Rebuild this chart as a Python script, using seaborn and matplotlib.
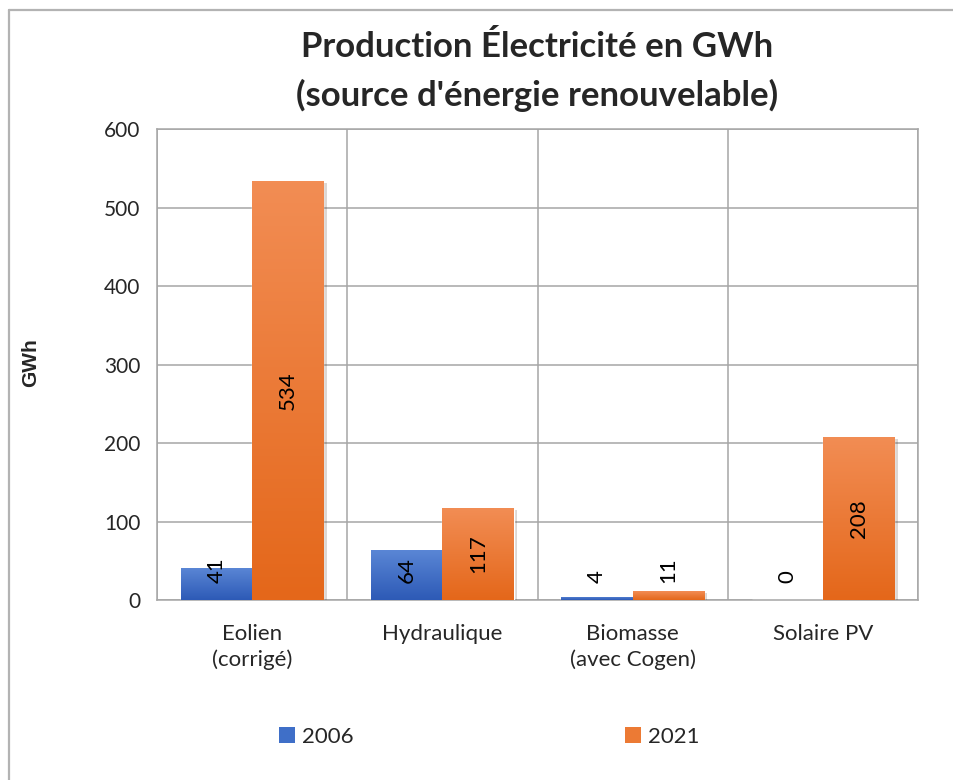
import numpy as np
import pandas as pd
import seaborn as sns
import matplotlib.pyplot as plt
import matplotlib.patheffects as pe
from matplotlib.patches import Patch
from matplotlib.lines import Line2D
from matplotlib.colors import to_rgb

# data
categories = ["Eolien\n(corrigé)", "Hydraulique", "Biomasse\n(avec Cogen)", "Solaire PV"]
years = ["2006", "2021"]
values_2006 = [41, 64, 4, 0]
values_2021 = [534, 117, 11, 208]
yticks = [0, 100, 200, 300, 400, 500, 600]

# gradient colours (top, bottom) per series
grad = {
    "2006": ("#5b87d6", "#2d5ab6"),
    "2021": ("#f28d54", "#e4671a"),
}
legend_col = {"2006": "#3f6fc8", "2021": "#ec7a34"}
grid_col = "#a6a6a6"

df = pd.DataFrame({
    "cat": categories * 2,
    "year": [years[0]] * 4 + [years[1]] * 4,
    "val": values_2006 + values_2021,
})

sns.set_style("white")
plt.rcParams["font.family"] = ["Lato", "DejaVu Sans"]

fig = plt.figure(figsize=(9.54, 7.8), dpi=100)
ax = fig.add_axes([157 / 954, 1 - 600 / 780, 761 / 954, 471 / 780])

sns.barplot(data=df, x="cat", y="val", hue="year", hue_order=years,
            palette=[legend_col[y] for y in years], width=0.75,
            ax=ax, legend=False, zorder=3)

ax.set_ylim(0, 600)
ax.set_xlim(-0.5, 3.5)

# gradient fill clipped to each bar, plus a soft drop shadow
bars = [p for p in ax.patches]
series = [y for y in years for _ in categories]
for p, yr in zip(bars, series):
    x0, y0 = p.get_x(), p.get_y()
    w, h = p.get_width(), p.get_height()
    if h <= 0:
        continue
    p.set_path_effects([pe.SimplePatchShadow(offset=(2.5, -1.5), alpha=0.18),
                        pe.Normal()])
    top, bot = np.array(to_rgb(grad[yr][0])), np.array(to_rgb(grad[yr][1]))
    t = np.linspace(0, 1, 128)[:, None, None]
    img = top * (1 - t) + bot * t
    im = ax.imshow(img, extent=[x0, x0 + w, y0, y0 + h], aspect="auto",
                   origin="upper", zorder=4)
    im.set_clip_path(p)
ax.set_xlim(-0.5, 3.5)
ax.set_ylim(0, 600)

# value labels, rotated
px_per_unit = 471 / 600
for p, yr in zip(bars, series):
    v = p.get_height()
    xc = p.get_x() + p.get_width() / 2
    s = f"{v:.0f}"
    half = len(s) * 11 / 2 / px_per_unit
    if v / 2 - half < 21.6:
        ax.text(xc, 21.6, s, rotation=90, ha="center", va="bottom",
                fontsize=16, color="black", zorder=6)
    else:
        ax.text(xc, v / 2, s, rotation=90, ha="center", va="center",
                fontsize=16, color="black", zorder=6)

# axes styling
ax.set_yticks(yticks)
ax.set_yticklabels([str(v) for v in yticks], fontsize=15)
ax.set_xticks(range(len(categories)))
ax.set_xticklabels(categories, fontsize=16, linespacing=1.35)
ax.set_xticks([-0.5, 0.5, 1.5, 2.5, 3.5], minor=True)
ax.tick_params(axis="x", which="major", length=0, pad=17)
ax.tick_params(axis="x", which="minor", length=6, width=1.1, color=grid_col,
               direction="out")
ax.tick_params(axis="y", length=6, width=1.1, color=grid_col, direction="out", pad=6)
ax.grid(axis="y", color=grid_col, lw=1.1, zorder=0)
ax.grid(axis="x", which="minor", color=grid_col, lw=1.1, zorder=0)
ax.grid(axis="x", which="major", visible=False)
for sp in ax.spines.values():
    sp.set_color(grid_col)
    sp.set_linewidth(1.1)
ax.set_xlabel("")
ax.set_ylabel("")
fig.text(31 / 954, 1 - 363 / 780, "GWh", rotation=90, ha="center", va="center",
         fontsize=15, fontweight="bold", family=["Liberation Sans", "DejaVu Sans"])

# title
fig.text(537 / 954, 1 - 47 / 780, "Production Électricité en GWh",
         ha="center", va="center", fontsize=25, fontweight="bold")
fig.text(537 / 954, 1 - 95 / 780, "(source d'énergie renouvelable)",
         ha="center", va="center", fontsize=25, fontweight="bold")

# legend
handles = [Patch(facecolor=legend_col[y], edgecolor="none") for y in years]
fig.legend(handles, years, loc="center", bbox_to_anchor=(489 / 954, 1 - 737 / 780),
           ncol=2, frameon=False, fontsize=16, handlelength=0.73,
           handleheight=0.73, handletextpad=0.3, columnspacing=12.2)

# outer chart frame (left and top edges visible)
fig.add_artist(Line2D([9 / 954, 9 / 954], [0, 1 - 10 / 780], color="#b3b3b3", lw=1.6,
                      transform=fig.transFigure))
fig.add_artist(Line2D([9 / 954, 1], [1 - 10 / 780, 1 - 10 / 780], color="#b3b3b3",
                      lw=1.6, transform=fig.transFigure))

fig.savefig("out.png", dpi=100)
